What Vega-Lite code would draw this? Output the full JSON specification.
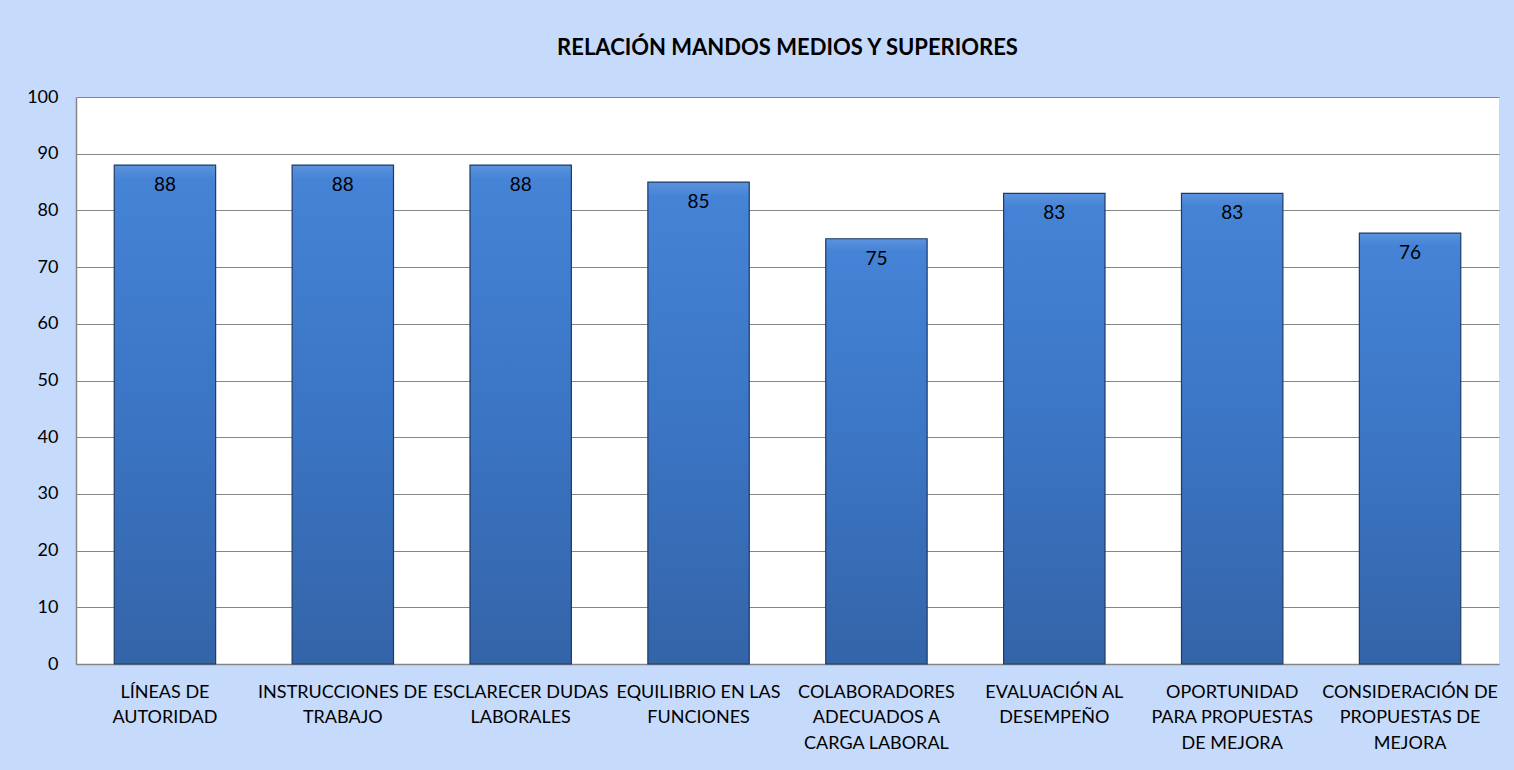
{
  "$schema": "https://vega.github.io/schema/vega-lite/v6.json",
  "autosize": {"type": "fit", "contains": "padding"},
  "width": 1514,
  "height": 770,
  "padding": {"left": 26, "top": 37, "right": 15, "bottom": 18},
  "background": "#c6dafb",
  "title": {
    "text": "RELACIÓN MANDOS MEDIOS Y SUPERIORES",
    "font": "Lato",
    "fontSize": 22,
    "fontWeight": "bold",
    "color": "#000000",
    "anchor": "middle",
    "offset": 28
  },
  "config": {
    "view": {"fill": "#ffffff", "stroke": null},
    "axis": {"labelFont": "Lato", "labelFontSize": 18, "labelColor": "#000000", "titleFontSize": 0}
  },
  "data": {
    "values": [
      {"categoria": "LÍNEAS DE|AUTORIDAD", "valor": 88},
      {"categoria": "INSTRUCCIONES DE|TRABAJO", "valor": 88},
      {"categoria": "ESCLARECER DUDAS|LABORALES", "valor": 88},
      {"categoria": "EQUILIBRIO EN LAS|FUNCIONES", "valor": 85},
      {"categoria": "COLABORADORES|ADECUADOS A|CARGA LABORAL", "valor": 75},
      {"categoria": "EVALUACIÓN AL|DESEMPEÑO", "valor": 83},
      {"categoria": "OPORTUNIDAD|PARA PROPUESTAS|DE MEJORA", "valor": 83},
      {"categoria": "CONSIDERACIÓN DE|PROPUESTAS DE|MEJORA", "valor": 76}
    ]
  },
  "encoding": {
    "x": {
      "field": "categoria",
      "type": "nominal",
      "sort": null,
      "title": null,
      "scale": {"paddingInner": 0.43, "paddingOuter": 0.215},
      "axis": {
        "labelAngle": 0,
        "labelExpr": "split(datum.label, '|')",
        "labelLineHeight": 25.5,
        "labelPadding": 19,
        "labelLimit": 200,
        "ticks": false,
        "domainColor": "#868686",
        "domainWidth": 1.5,
        "grid": false
      }
    },
    "y": {
      "field": "valor",
      "type": "quantitative",
      "title": null,
      "scale": {"domain": [0, 100], "nice": false},
      "axis": {
        "values": [0, 10, 20, 30, 40, 50, 60, 70, 80, 90, 100],
        "ticks": false,
        "labelPadding": 18,
        "domainColor": "#868686",
        "domainWidth": 1.5,
        "gridColor": "#868686",
        "gridWidth": 1.2,
        "gridOpacity": 1
      }
    }
  },
  "layer": [
    {
      "mark": {
        "type": "bar",
        "stroke": "#1d3b66",
        "strokeWidth": 1.2,
        "color": {
          "gradient": "linear",
          "x1": 0, "y1": 0, "x2": 0, "y2": 1,
          "stops": [
            {"offset": 0, "color": "#5b93dd"},
            {"offset": 0.03, "color": "#4583d6"},
            {"offset": 0.5, "color": "#3b75c4"},
            {"offset": 1, "color": "#3464a8"}
          ]
        }
      }
    },
    {
      "mark": {
        "type": "text",
        "baseline": "top",
        "dy": 11,
        "font": "Lato",
        "fontSize": 19,
        "color": "#000000"
      },
      "encoding": {"text": {"field": "valor", "type": "quantitative"}}
    }
  ]
}
